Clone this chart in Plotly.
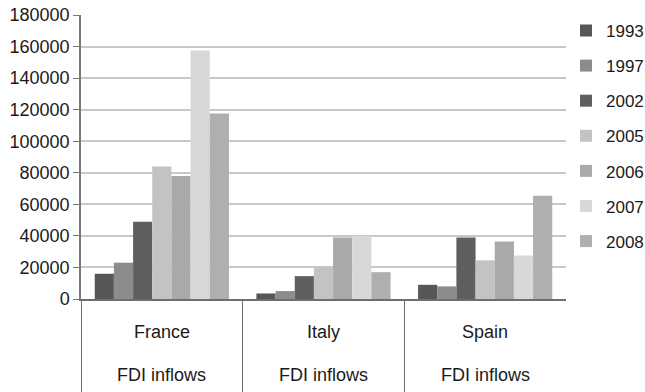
import plotly.graph_objects as go

# FDI inflows by country and year
countries = ["France", "Italy", "Spain"]
years = ["1993", "1997", "2002", "2005", "2006", "2007", "2008"]
fdi_1993 = [16000, 3500, 9000]
fdi_1997 = [23000, 5000, 8000]
fdi_2002 = [49000, 14500, 39000]
fdi_2005 = [84000, 20000, 24500]
fdi_2006 = [78000, 39000, 36500]
fdi_2007 = [157500, 40000, 27500]
fdi_2008 = [117500, 17000, 65500]
series = [fdi_1993, fdi_1997, fdi_2002, fdi_2005, fdi_2006, fdi_2007, fdi_2008]
group_label = "FDI inflows"
y_ticks = [0, 20000, 40000, 60000, 80000, 100000, 120000, 140000, 160000, 180000]

colors = ["#575757", "#8c8c8c", "#5f5f5f", "#c3c3c3", "#a9a9a9", "#d8d8d8", "#afafaf"]
font_family = "Liberation Sans, Arial, sans-serif"

fig = go.Figure()
for yr, vals, col in zip(years, series, colors):
    fig.add_trace(go.Bar(
        x=countries, y=vals, name=yr, legendgroup=yr,
        marker=dict(color=col, line=dict(width=0)),
    ))

# two-row category labels under each box
for c in countries:
    fig.add_annotation(x=c, xref="x", y=-0.116, yref="paper", text=c,
                       showarrow=False, yanchor="middle",
                       font=dict(size=18, color="#1a1a1a", family=font_family))
    fig.add_annotation(x=c, xref="x", y=-0.268, yref="paper", text=group_label,
                       showarrow=False, yanchor="middle",
                       font=dict(size=18, color="#1a1a1a", family=font_family))

fig.update_layout(
    width=645, height=392, autosize=False,
    margin=dict(l=81, r=72, t=15, b=93),
    paper_bgcolor="white", plot_bgcolor="white",
    barmode="group", bargap=0.17, bargroupgap=0,
    font=dict(family=font_family, color="#1a1a1a"),
    legend=dict(xref="container", yref="container",
                x=0.8775, xanchor="left", y=0.967, yanchor="top",
                font=dict(size=17, color="#1a1a1a", family=font_family),
                tracegroupgap=10, bgcolor="rgba(0,0,0,0)", maxheight=400),
    showlegend=True,
)
fig.update_xaxes(
    type="category", automargin=False,
    showgrid=False, showline=True, linecolor="#6e6e6e", linewidth=1.5,
    showticklabels=False, ticks="outside", tickson="boundaries",
    ticklen=100, tickcolor="#6e6e6e", tickwidth=1.2,
)
fig.update_yaxes(
    automargin=False,
    range=[0, 180000], tickvals=y_ticks, ticktext=[str(v) for v in y_ticks],
    showgrid=True, gridcolor="#c8c8c8", gridwidth=1.5,
    showline=True, linecolor="#7a7a7a", linewidth=1.5,
    ticks="outside", ticklen=6, tickcolor="#7a7a7a",
    tickfont=dict(size=18, color="#1a1a1a", family=font_family),
    zeroline=False,
)

fig.write_html("out.html")
